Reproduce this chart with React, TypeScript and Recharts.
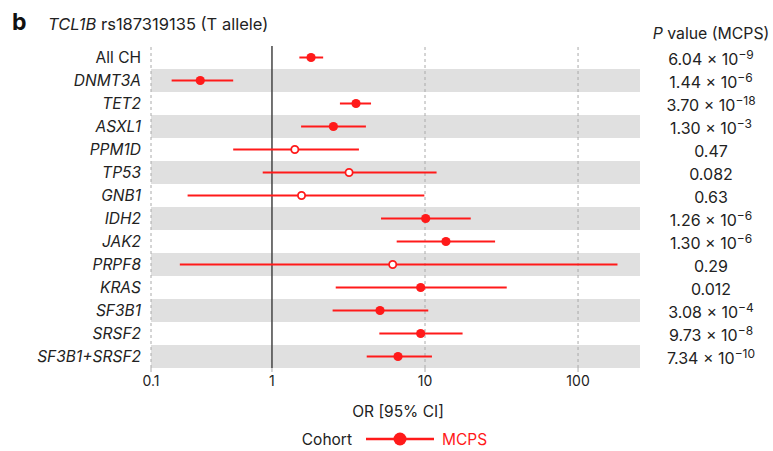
import {
  ScatterChart,
  Scatter,
  XAxis,
  YAxis,
  ErrorBar,
  ReferenceArea,
  ReferenceLine,
} from "recharts";

// rows, top to bottom
const GENES = [
  "All CH",
  "DNMT3A",
  "TET2",
  "ASXL1",
  "PPM1D",
  "TP53",
  "GNB1",
  "IDH2",
  "JAK2",
  "PRPF8",
  "KRAS",
  "SF3B1",
  "SRSF2",
  "SF3B1+SRSF2",
];

// odds ratios and 95% CI
const OR = [1.8, 0.34, 3.54, 2.52, 1.41, 3.19, 1.56, 10.1, 13.7, 6.15, 9.37, 5.08, 9.37, 6.66];
const CI_LOW = [1.51, 0.221, 2.78, 1.55, 0.558, 0.87, 0.281, 5.16, 6.53, 0.25, 2.61, 2.49, 5.03, 4.16];
const CI_HIGH = [2.16, 0.558, 4.44, 4.11, 3.7, 11.9, 9.9, 19.9, 28.7, 181, 34.2, 10.5, 17.6, 11.1];

// P values (MCPS): mantissa + exponent (null = plain number)
const P_MANT = ["6.04", "1.44", "3.70", "1.30", "0.47", "0.082", "0.63", "1.26", "1.30", "0.29", "0.012", "3.08", "9.73", "7.34"];
const P_EXP = ["−9", "−6", "−18", "−3", null, null, null, "−6", "−6", null, null, "−4", "−8", "−10"];

// axis: left edge of the panel carries the "0.1" label
const X_MIN = 0.162;
const X_MAX = 254;
const X_TICKS = [X_MIN, 1, 10, 100];

const RED = "#ff1a1a";
const FONT = "Inter, sans-serif";

const rows = GENES.map((name, i) => ({
  y: i,
  x: OR[i],
  err: [OR[i] - CI_LOW[i], CI_HIGH[i] - OR[i]],
  open: P_EXP[i] === null && parseFloat(P_MANT[i]) >= 0.05,
}));

const GeneTick = (props: any) => {
  const { x, y, payload } = props;
  const name = GENES[payload.value];
  return (
    <text
      x={x}
      y={y}
      dy={5}
      textAnchor="end"
      fontSize={15.5}
      fontFamily={FONT}
      fill="#222"
      fontStyle={name === "All CH" ? "normal" : "italic"}
    >
      {name}
    </text>
  );
};

const PTick = (props: any) => {
  const { x, y, payload } = props;
  const i = payload.value;
  const exp = P_EXP[i];
  return (
    <text x={x + 71} y={y} dy={7} textAnchor="middle" fontSize={16} fontFamily={FONT} fill="#222">
      {exp === null ? (
        P_MANT[i]
      ) : (
        <>
          <tspan>{P_MANT[i]} × 10</tspan>
          <tspan dy={-6} fontSize={12}>
            {exp}
          </tspan>
        </>
      )}
    </text>
  );
};

const Dot = (props: any) => {
  const { cx, cy, payload } = props;
  if (payload.open) {
    return <circle cx={cx} cy={cy} r={3.6} fill="#fff" stroke={RED} strokeWidth={1.8} />;
  }
  return <circle cx={cx} cy={cy} r={4.6} fill={RED} />;
};

const NoDot = () => <g />;

export default function App() {
  return (
    <div style={{ position: "absolute", left: 0, top: 0, width: 773, height: 451, background: "#fff" }}>
      <ScatterChart width={773} height={451} margin={{ top: 46, right: 0, bottom: 27, left: 0 }}>
        <XAxis
          type="number"
          dataKey="x"
          scale="log"
          domain={[X_MIN, X_MAX]}
          ticks={X_TICKS}
          allowDataOverflow
          axisLine={false}
          tickLine={{ stroke: "#aaa" }}
          tickSize={4}
          tickMargin={4}
          height={56}
          tick={{ fontSize: 14, fontFamily: FONT, fill: "#222" }}
          tickFormatter={(v: number) => (v === X_MIN ? "0.1" : String(v))}
        />
        <YAxis
          type="number"
          dataKey="y"
          domain={[-0.5, GENES.length - 0.5]}
          ticks={GENES.map((_, i) => i)}
          interval={0}
          reversed
          width={151}
          axisLine={false}
          tickLine={false}
          tickSize={0}
          tickMargin={10}
          tick={<GeneTick />}
        />
        <YAxis
          yAxisId="p"
          orientation="right"
          type="number"
          dataKey="y"
          domain={[-0.5, GENES.length - 0.5]}
          ticks={GENES.map((_, i) => i)}
          interval={0}
          reversed
          width={133}
          axisLine={false}
          tickLine={false}
          tickSize={0}
          tickMargin={0}
          tick={<PTick />}
        />
        {GENES.map((g, i) =>
          i % 2 === 1 ? (
            <ReferenceArea
              key={g}
              x1={X_MIN}
              x2={X_MAX}
              y1={i - 0.5}
              y2={i + 0.5}
              fill="#e0e0e0"
              fillOpacity={1}
              stroke="none"
            />
          ) : null
        )}
        {[X_MIN, 10, 100].map((t) => (
          <ReferenceLine key={t} x={t} stroke="#aaa" strokeDasharray="3 3" />
        ))}
        <ReferenceLine x={1} stroke="#444" strokeWidth={1.5} />
        {/* invisible series so the P value axis has data */}
        <Scatter yAxisId="p" data={rows} shape={<NoDot />} isAnimationActive={false} />
        <Scatter data={rows} shape={<Dot />} isAnimationActive={false}>
          <ErrorBar dataKey="err" direction="x" width={0} stroke={RED} strokeWidth={2} isAnimationActive={false} />
        </Scatter>
      </ScatterChart>
      <svg
        width={773}
        height={451}
        style={{ position: "absolute", left: 0, top: 0, pointerEvents: "none" }}
        fontFamily={FONT}
      >
        <text x={12} y={30} fontSize={23} fontWeight={700} fill="#111">
          b
        </text>
        <text x={48} y={30} fontSize={16.5} fill="#222">
          <tspan fontStyle="italic">TCL1B</tspan>
          <tspan> rs187319135 (T allele)</tspan>
        </text>
        <text x={711} y={39} fontSize={15.8} textAnchor="middle" fill="#222">
          <tspan fontStyle="italic">P</tspan>
          <tspan> value (MCPS)</tspan>
        </text>
        <text x={398} y={417} fontSize={15.5} textAnchor="middle" fill="#222">
          OR [95% CI]
        </text>
        <text x={352} y={445} fontSize={15.5} textAnchor="end" fill="#222">
          Cohort
        </text>
        <line x1={366} x2={434} y1={439} y2={439} stroke={RED} strokeWidth={2.5} />
        <circle cx={400} cy={439} r={6.5} fill={RED} />
        <text x={442} y={445} fontSize={15.5} fill={RED}>
          MCPS
        </text>
      </svg>
    </div>
  );
}
